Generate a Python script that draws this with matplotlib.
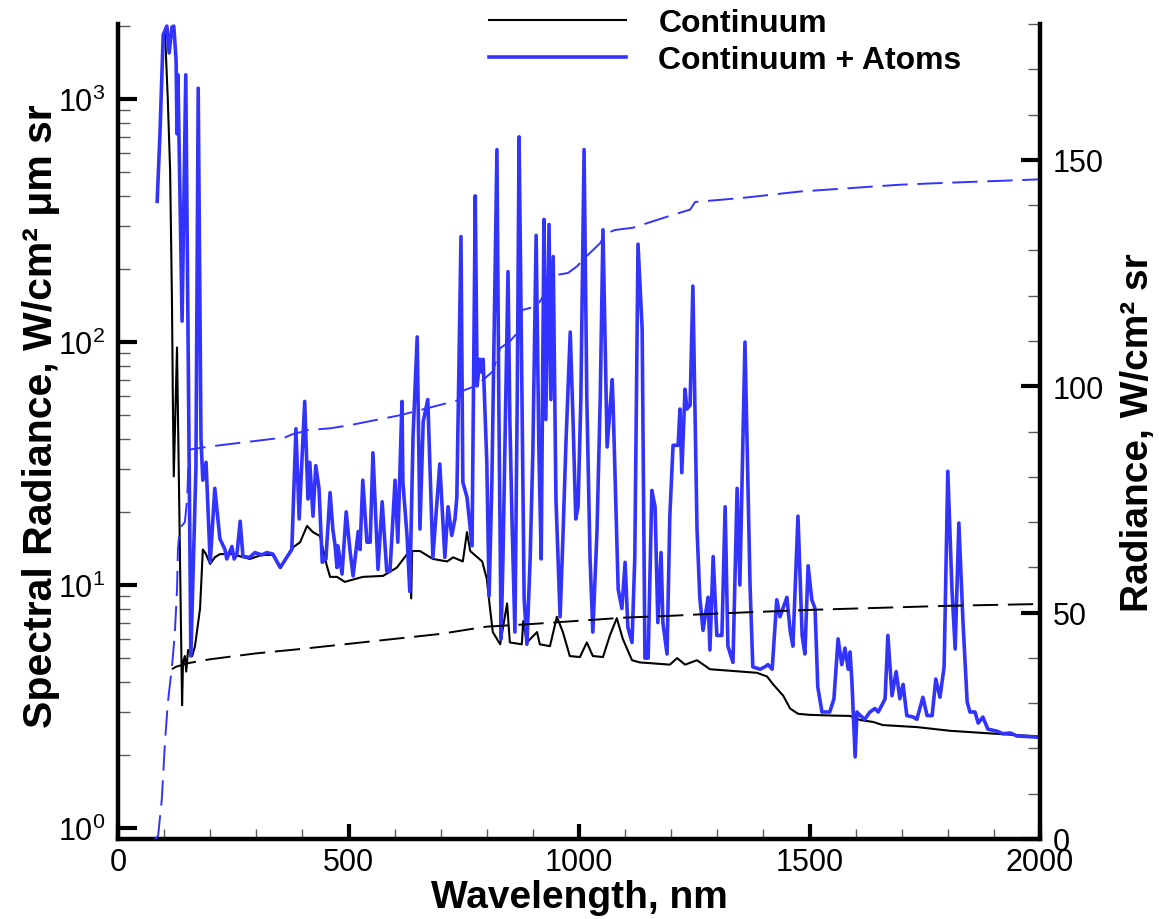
import matplotlib
matplotlib.use("Agg")
import matplotlib.pyplot as plt
from matplotlib.ticker import FixedLocator, MultipleLocator, NullFormatter

plt.rcParams['font.family'] = ['Liberation Sans', 'DejaVu Sans']
plt.rcParams['mathtext.fontset'] = 'custom'
plt.rcParams['mathtext.rm'] = 'Liberation Sans'
plt.rcParams['mathtext.it'] = 'Liberation Sans:italic'
plt.rcParams['mathtext.bf'] = 'Liberation Sans:bold'

BLUE = '#3333ff'

# spectral radiance, continuum only (W/cm2 um sr)
wl_cont = [102, 108, 113, 117, 119, 121, 128, 134, 139, 141, 145, 148, 152, 161, 167,
           178, 184, 190, 200, 210, 221, 247, 286, 312, 336, 351, 380, 395, 410, 423,
           438, 453, 460, 475, 492, 531, 575, 605, 627, 633, 636, 638, 655, 683, 714,
           727, 748, 757, 764, 790, 800, 807, 813, 829, 844, 850, 876, 879, 887, 909,
           915, 937, 952, 965, 980, 1002, 1017, 1030, 1052, 1067, 1082, 1095, 1115,
           1132, 1197, 1213, 1230, 1256, 1284, 1386, 1408, 1421, 1443, 1458, 1475,
           1500, 1550, 1588, 1610, 1638, 1659, 1733, 1805, 1876, 1950, 2000]
rad_cont = [1880, 1000, 514, 150, 58, 28, 95, 15, 3.2, 4.8, 5.1, 4.4, 5.4, 5.1, 5.6,
            8.0, 14, 13.5, 12.2, 13.0, 13.4, 13.4, 12.8, 13.3, 13.3, 11.8, 14.3, 15.0,
            17.5, 16.5, 15.9, 12.0, 10.8, 10.8, 10.3, 10.8, 10.9, 11.8, 13.4, 13.8, 8.8,
            13.8, 13.8, 12.8, 12.5, 13.0, 12.5, 16.5, 13.8, 12.5, 10.6, 8.0, 6.4, 5.7,
            8.4, 5.8, 5.7, 7.1, 5.8, 6.4, 5.7, 5.6, 7.4, 6.4, 5.1, 5.05, 5.8, 5.1, 5.05,
            6.2, 7.3, 6.0, 4.9, 4.8, 4.7, 5.0, 4.7, 4.9, 4.5, 4.35, 4.2, 3.9, 3.5, 3.1,
            2.95, 2.92, 2.9, 2.89, 2.78, 2.73, 2.65, 2.6, 2.51, 2.46, 2.41, 2.38]

# spectral radiance, continuum + atomic lines
wl_atoms = [85, 91, 98, 106, 111, 117, 121, 126, 128, 130, 139, 147, 158, 169, 174,
            180, 184, 191, 200, 210, 221, 232, 236, 247, 252, 258, 265, 271, 286, 297,
            312, 323, 336, 352, 377, 386, 393, 405, 412, 416, 423, 429, 436, 443, 451,
            460, 466, 471, 475, 477, 486, 495, 503, 510, 521, 525, 531, 540, 547, 553,
            564, 573, 583, 590, 601, 607, 616, 618, 627, 633, 640, 649, 655, 662, 672,
            683, 698, 709, 716, 724, 731, 735, 744, 748, 757, 768, 775, 779, 785, 790,
            792, 800, 805, 811, 817, 822, 826, 831, 835, 842, 846, 850, 855, 861, 866,
            870, 874, 881, 887, 894, 900, 907, 913, 918, 924, 928, 935, 939, 944, 950,
            959, 965, 972, 981, 987, 993, 998, 1004, 1011, 1017, 1024, 1030, 1039, 1046,
            1052, 1061, 1072, 1074, 1085, 1093, 1100, 1106, 1115, 1121, 1128, 1137, 1143,
            1150, 1158, 1165, 1171, 1178, 1182, 1191, 1197, 1204, 1215, 1219, 1223, 1230,
            1234, 1241, 1247, 1256, 1262, 1269, 1280, 1284, 1291, 1299, 1310, 1317, 1323,
            1334, 1343, 1349, 1360, 1371, 1377, 1393, 1403, 1410, 1419, 1429, 1436, 1451,
            1458, 1464, 1475, 1484, 1490, 1497, 1505, 1512, 1518, 1527, 1544, 1553, 1562,
            1570, 1577, 1584, 1588, 1592, 1599, 1603, 1610, 1620, 1631, 1642, 1649, 1657,
            1664, 1670, 1679, 1688, 1696, 1703, 1711, 1725, 1733, 1746, 1755, 1766, 1774,
            1783, 1792, 1800, 1809, 1816, 1824, 1833, 1842, 1848, 1859, 1866, 1876, 1887,
            1907, 1920, 1935, 1950, 2000]
rad_atoms = [380, 720, 1840, 2000, 1550, 1980, 2000, 1450, 720, 1260, 122, 1260, 5.1, 30,
             1110, 40, 27, 32, 12.4, 25, 15.5, 14, 12.8, 14.4, 12.8, 13.4, 18.3, 13.1, 13,
             13.6, 13.3, 13.6, 13.4, 11.8, 14, 44, 18.7, 57, 22.6, 32, 19.2, 31, 25, 12.4,
             12.8, 24, 17, 14.5, 11.8, 14.5, 11.1, 20, 14, 10.9, 16.6, 14, 27, 15, 15, 35,
             11.6, 22, 11.4, 11.4, 27, 15, 57, 26.5, 15.9, 9.4, 41, 105, 17, 47, 58,
             13, 31.5, 13, 21, 16, 18.7, 23, 272, 26.5, 23, 14.5, 400, 66, 85, 75,
             85, 32, 9, 26.5, 150, 620, 58, 6, 12.8, 70, 195, 48, 17.4, 6.4, 58,
             700, 150, 8.8, 5.7, 12.8, 36, 275, 36, 12.8, 320, 48, 305, 58, 225, 22.6,
             7.4, 15.5, 40, 110, 48, 18.7, 21, 58, 620, 58, 12.8, 6.4, 16.6, 58,
             290, 37, 70, 55, 9.6, 8, 12.4, 6.7, 5.8, 12.9, 253, 113, 5,
             5, 24.5, 21, 7, 13.6, 7, 5.2, 19.2, 37.6, 37.6, 53, 29, 64,
             53, 55, 170, 17, 8.9, 6.5, 8.9, 5.4, 13.1, 6.2, 6.2, 21, 5.6,
             4.8, 25, 10, 100, 10, 4.6, 4.5, 4.6, 4.7, 4.5, 8.7, 7.4, 8.9,
             6.5, 5.6, 19.2, 6.2, 5.2, 12, 8.7, 8, 3.8, 3.0, 3.0, 3.4, 6,
             4.7, 5.5, 4.5, 5.3, 4.0, 1.96, 3.0, 2.9, 2.8, 3.0, 3.1, 3.0, 3.2,
             3.4, 6.2, 3.5, 4.4, 3.4, 3.9, 2.9, 2.86, 2.8, 3.45, 2.9, 2.9, 4.1,
             3.45, 4.6, 29.4, 9.6, 5.45, 18, 7, 3.3, 3.0, 3.0, 2.7, 2.86, 2.55,
             2.5, 2.44, 2.46, 2.39, 2.36]

# cumulative radiance (W/cm2 sr), right axis
wl_cum_cont = [117, 125, 150, 200, 300, 400, 500, 600, 700, 780, 800, 850, 900, 1000,
               1100, 1200, 1300, 1400, 1500, 1600, 1700, 1800, 1900, 2000]
cum_cont = [37.5, 38.0, 38.8, 39.7, 41.0, 42.0, 43.1, 44.2, 45.3, 46.6, 46.9, 47.2, 47.5,
            48.2, 48.9, 49.3, 49.8, 50.2, 50.6, 50.9, 51.2, 51.5, 51.7, 51.9]

wl_cum_atoms = [80, 87, 95, 102, 108, 117, 123, 128, 130, 134, 145, 150, 154, 200, 362,
                384, 395, 410, 460, 503, 612, 738, 748, 779, 813, 829, 850, 868, 876,
                909, 920, 952, 976, 996, 1009, 1046, 1056, 1078, 1117, 1202, 1241, 1252,
                1356, 1479, 1696, 1790, 1978, 2000]
cum_atoms = [0, 0.7, 8.8, 21.5, 30, 38, 45, 55, 64, 68.6, 70, 75, 86, 86.7, 88.7,
             89.6, 89.8, 90.3, 90.7, 91.4, 93.6, 96.9, 99, 100.2, 103.3, 108.4, 109.9,
             112, 116.8, 117.7, 119.5, 124.6, 125, 126.5, 128, 131.6, 133.6, 134.5, 135,
             137.8, 139, 140.7, 141.6, 143, 144.5, 144.9, 145.6, 145.7]

fig = plt.figure(figsize=(11.59, 9.2), dpi=100)
ax = fig.add_axes([118 / 1159, 80 / 920, 922 / 1159, 815 / 920])

l1, = ax.plot(wl_cont, rad_cont, color='black', lw=1.5, label='Continuum', zorder=2)
l2, = ax.plot(wl_atoms, rad_atoms, color=BLUE, lw=2.6, label='Continuum + Atoms', zorder=3)
ax.set_yscale('log')
ax.set_xlim(0, 2000)
ax.set_ylim(0.9, 2040)

ax.yaxis.set_major_locator(FixedLocator([1, 10, 100, 1000]))
ax.set_yticklabels([r'$10^{0}$', r'$10^{1}$', r'$10^{2}$', r'$10^{3}$'])
ax.yaxis.set_minor_locator(FixedLocator([m * 10 ** e for e in range(0, 4) for m in range(2, 10)]))
ax.yaxis.set_minor_formatter(NullFormatter())
ax.xaxis.set_major_locator(MultipleLocator(500))
ax.xaxis.set_minor_locator(MultipleLocator(100))

ax.tick_params(axis='both', which='major', direction='in', width=3, labelsize=22)
ax.tick_params(axis='y', which='major', length=14, pad=9)
ax.tick_params(axis='x', which='major', length=11, pad=6)
ax.tick_params(axis='y', which='minor', direction='in', length=8.5, width=1, color='0.35')
ax.tick_params(axis='x', which='minor', direction='in', length=7, width=1, color='0.35')
ax.tick_params(top=False, right=False, which='both')

for side in ['top', 'right']:
    ax.spines[side].set_visible(False)
for side in ['left', 'bottom']:
    ax.spines[side].set_linewidth(3.2)

ax.set_xlabel('Wavelength, nm', fontsize=28, fontweight='bold', labelpad=1)
ax.set_ylabel('Spectral Radiance, W/cm² μm sr', fontsize=29.5, fontweight='bold')
ax.yaxis.set_label_coords(-0.063, 0.52)

ax2 = ax.twinx()
ax2.plot(wl_cum_cont, cum_cont, color='black', lw=1.4, dashes=(13, 5))
ax2.plot(wl_cum_atoms, cum_atoms, color=BLUE, lw=1.4, dashes=(13, 5))
ax2.set_ylim(0, 180)
ax2.yaxis.set_major_locator(MultipleLocator(50))
ax2.yaxis.set_minor_locator(MultipleLocator(10))
ax2.tick_params(axis='y', which='major', direction='in', length=14, width=3, labelsize=22, pad=9)
ax2.tick_params(axis='y', which='minor', direction='in', length=8.5, width=1, color='0.35')
for side in ['top', 'left', 'bottom']:
    ax2.spines[side].set_visible(False)
ax2.spines['right'].set_linewidth(3.2)
ax2.set_ylabel('Radiance, W/cm² sr', fontsize=28, fontweight='bold', labelpad=12)

fig.legend([l1, l2], ['Continuum', 'Continuum + Atoms'], loc='upper left',
           bbox_to_anchor=(489 / 1159, 1 - 9 / 920), frameon=False,
           prop={'size': 23, 'weight': 'bold'}, handlelength=4.3, handletextpad=1.0,
           labelspacing=0.22, borderpad=0, borderaxespad=0)

fig.savefig('out.png', dpi=100)
